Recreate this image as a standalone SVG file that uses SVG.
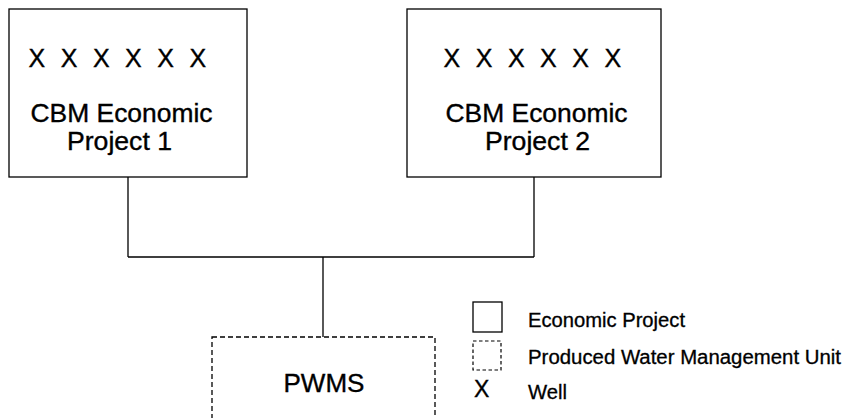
<svg xmlns="http://www.w3.org/2000/svg" width="846" height="418" viewBox="0 0 846 418">
<style>
.box{fill:#fff;stroke:#000;stroke-width:1.3}
.dash{fill:#fff;stroke:#000;stroke-width:1.3;stroke-dasharray:5 3}
.ldash{fill:#fff;stroke:#000;stroke-width:1.2;stroke-dasharray:3.5 2.5}
.conn{fill:none;stroke:#000;stroke-width:1.3}
text{font-family:"Liberation Sans",Arial,sans-serif;fill:#000;stroke:#000;stroke-width:0.35}
.big{font-size:25px}
.xs{font-size:25px}
.leg{font-size:19.5px;stroke-width:0.3}
</style>
<rect width="846" height="418" fill="#fff"/>
<g id="connectors">
<path class="conn" d="M128 177V257M534 177V257M128 257H534M323 257V337"/>
</g>
<g id="project1">
<rect class="box" x="9" y="9" width="238" height="168"/>
<text class="xs" x="28.5 60.7 92.9 125.1 157.3 189.5" y="67">XXXXXX</text>
<text class="big" x="30.5" y="121.5" textLength="182" lengthAdjust="spacingAndGlyphs">CBM Economic</text>
<text class="big" x="67" y="149.5" textLength="105" lengthAdjust="spacingAndGlyphs">Project 1</text>
</g>
<g id="project2">
<rect class="box" x="407" y="9" width="254" height="168"/>
<text class="xs" x="443.5 475.7 507.9 540.1 572.3 604.5" y="67">XXXXXX</text>
<text class="big" x="445.5" y="121.5" textLength="182" lengthAdjust="spacingAndGlyphs">CBM Economic</text>
<text class="big" x="485" y="149.5" textLength="105" lengthAdjust="spacingAndGlyphs">Project 2</text>
</g>
<g id="pwms">
<rect class="dash" x="212" y="337" width="223" height="110"/>
<text class="big" x="283.5" y="392" textLength="81" lengthAdjust="spacingAndGlyphs">PWMS</text>
</g>
<g id="legend">
<rect class="box" x="473" y="302" width="29" height="30"/>
<rect class="ldash" x="473" y="341" width="28" height="29"/>
<text x="474" y="397" font-size="23">X</text>
<text class="leg" x="528" y="327" textLength="157" lengthAdjust="spacingAndGlyphs">Economic Project</text>
<text class="leg" x="528" y="364" textLength="313" lengthAdjust="spacingAndGlyphs">Produced Water Management Unit</text>
<text class="leg" x="528" y="399" textLength="39" lengthAdjust="spacingAndGlyphs">Well</text>
</g>
</svg>
